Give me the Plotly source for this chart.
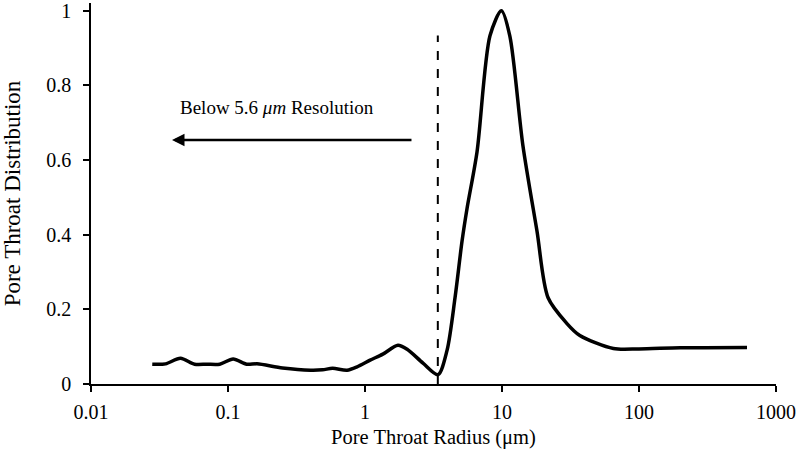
import math
import plotly.graph_objects as go

# Pore throat distribution curve
radius_um = [0.028, 0.035, 0.045, 0.057, 0.07, 0.087, 0.109, 0.137, 0.163, 0.25,
             0.4, 0.49, 0.58, 0.74, 0.875, 1.09, 1.35, 1.74, 2.03, 2.65,
             3.41, 3.97, 4.54, 5.11, 5.56, 6.57, 8.17, 9.9, 11.4,
             14.2, 18.0, 21.7, 29.8, 37.0, 65.0, 100.0, 200.0, 614.0]
distribution = [0.053, 0.054, 0.069, 0.053, 0.053, 0.053, 0.067, 0.053, 0.054, 0.043,
                0.037, 0.038, 0.042, 0.037, 0.046, 0.064, 0.080, 0.104, 0.093, 0.056,
                0.025, 0.090, 0.231, 0.383, 0.471, 0.622, 0.933, 1.0, 0.933,
                0.64, 0.41, 0.231, 0.162, 0.130, 0.095, 0.094, 0.097, 0.098]

# Resolution marker line
resolution_x = [3.4, 3.4]
resolution_y = [0.0, 0.934]

# Arrow (head, tail)
arrow_x = [0.039, 2.24]
arrow_y = 0.654
label_x = 0.226
label_y = 0.742

x_tickvals = [0.01, 0.1, 1, 10, 100, 1000]
x_ticktext = ["0.01", "0.1", "1", "10", "100", "1000"]
y_tickvals = [0, 0.2, 0.4, 0.6, 0.8, 1.0]
y_ticktext = ["0", "0.2", "0.4", "0.6", "0.8", "1"]

FONT = "Liberation Serif, Times New Roman, serif"

fig = go.Figure()
fig.add_trace(go.Scatter(x=resolution_x, y=resolution_y, mode="lines",
                         line=dict(color="black", width=2, dash="dash"),
                         showlegend=False, hoverinfo="skip"))
fig.add_trace(go.Scatter(x=radius_um, y=distribution, mode="lines",
                         line=dict(color="black", width=3.5, shape="spline", smoothing=0.8),
                         showlegend=False))

fig.add_annotation(x=math.log10(arrow_x[0]), y=arrow_y, ax=math.log10(arrow_x[1]), ay=arrow_y,
                   xref="x", yref="y", axref="x", ayref="y", text="", showarrow=True,
                   arrowhead=2, arrowsize=1.0, arrowwidth=2.5, arrowcolor="black")
fig.add_annotation(x=math.log10(label_x), y=label_y, xref="x", yref="y",
                   text="Below 5.6 <i>μm</i> Resolution", showarrow=False,
                   font=dict(family=FONT, size=19, color="black"))

fig.update_layout(
    width=797, height=451,
    margin=dict(l=91, r=21, t=0, b=67),
    paper_bgcolor="white", plot_bgcolor="white",
    font=dict(family=FONT, size=20, color="black"),
    showlegend=False,
)
fig.update_xaxes(type="log", range=[-2, 3], tickvals=x_tickvals, ticktext=x_ticktext,
                 showgrid=False, zeroline=False, showline=True, linecolor="black", linewidth=1.5,
                 ticks="outside", ticklen=6, tickwidth=1.5, tickcolor="black",
                 ticklabelstandoff=3,
                 title=dict(text="Pore Throat Radius (μm)", font=dict(size=20.5), standoff=8))
fig.update_yaxes(range=[0, 1.021], tickvals=y_tickvals, ticktext=y_ticktext,
                 showgrid=False, zeroline=False, showline=True, linecolor="black", linewidth=1.5,
                 ticks="outside", ticklen=6, tickwidth=1.5, tickcolor="black",
                 ticklabelstandoff=8, ticklabeloverflow="allow",
                 title=dict(text="Pore Throat Distribution", font=dict(size=23), standoff=22))

fig.write_html("out.html")
